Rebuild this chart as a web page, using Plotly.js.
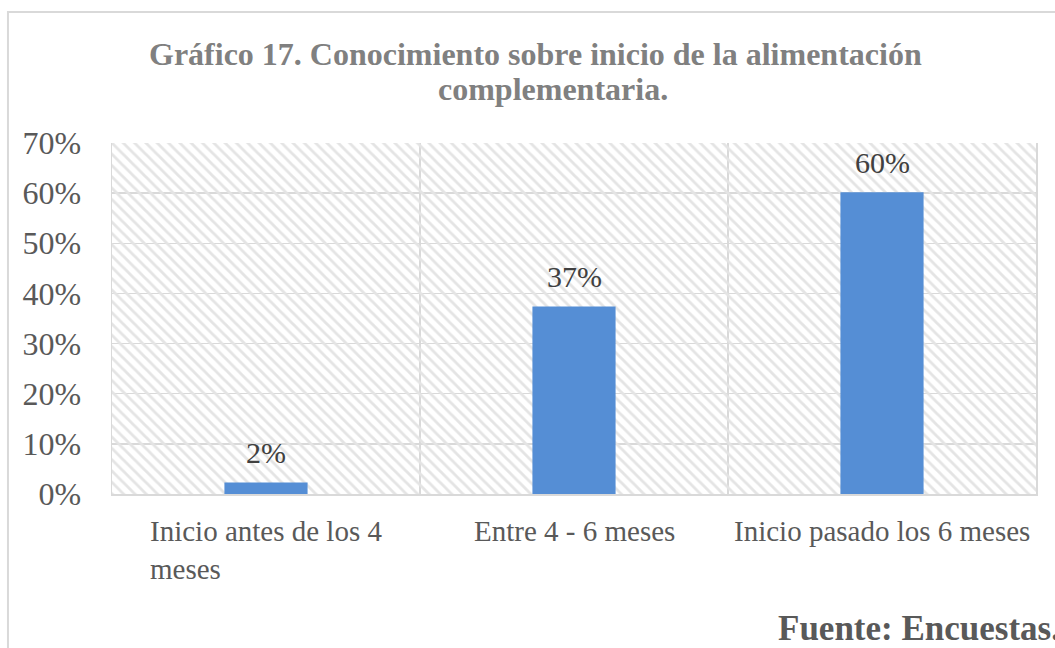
<!DOCTYPE html>
<html>
<head>
<meta charset="utf-8">
<script src="https://cdn.plot.ly/plotly-3.0.1.min.js"></script>
<style>html,body{margin:0;padding:0;background:#fff;}#chart{width:1055px;height:648px;}</style>
</head>
<body>
<div id="chart"></div>
<script>
const categories = ['Inicio antes de los 4 meses', 'Entre 4 - 6 meses', 'Inicio pasado los 6 meses'];
const xLabels = ['Inicio antes de los 4<br>meses', 'Entre 4 - 6 meses', 'Inicio pasado los 6 meses'];
const values = [0.023, 0.374, 0.602];
const valueLabels = ['2%', '37%', '60%'];
const yTickVals = [0, 0.1, 0.2, 0.3, 0.4, 0.5, 0.6, 0.7];
const titleLines = ['Gráfico 17. Conocimiento sobre inicio de la alimentación', 'complementaria.'];
const sourceText = 'Fuente: Encuestas.';

const yMax = yTickVals[yTickVals.length - 1];
const serif = 'Liberation Serif, Times New Roman, serif';
const grid = '#d9d9d9';

const hatch = {
  type: 'bar',
  x: [categories[1]],
  y: [yMax],
  width: [categories.length],
  marker: {
    color: 'rgba(0,0,0,0)',
    line: {width: 0},
    pattern: {shape: '\\', fgcolor: '#e4e4e4', bgcolor: 'rgba(0,0,0,0)', size: 8, solidity: 0.35}
  },
  hoverinfo: 'skip',
  textposition: 'none',
  showlegend: false
};

const bars = {
  type: 'bar',
  x: categories,
  y: values,
  width: 0.27,
  marker: {color: '#558ED5', line: {width: 0}},
  textposition: 'none',
  showlegend: false
};

const annotations = [];
categories.forEach((c, i) => {
  annotations.push({
    x: c, y: 0, xref: 'x', yref: 'y',
    xanchor: 'center', yanchor: 'top', align: 'left',
    yshift: -19,
    text: xLabels[i], showarrow: false,
    font: {family: serif, size: 29, color: '#595959'}
  });
  annotations.push({
    x: c, y: values[i], xref: 'x', yref: 'y',
    xanchor: 'center', yanchor: 'bottom',
    yshift: 11,
    text: valueLabels[i], showarrow: false,
    font: {family: serif, size: 30, color: '#404040'}
  });
});
// title lines
annotations.push({
  x: (535.5 - 112) / 924, y: 1.2544, xref: 'paper', yref: 'paper',
  xanchor: 'center', yanchor: 'middle',
  text: '<b>' + titleLines[0] + '</b>', showarrow: false,
  font: {family: serif, size: 32, color: '#808080'}
});
annotations.push({
  x: (552.5 - 112) / 924, y: 1.1545, xref: 'paper', yref: 'paper',
  xanchor: 'center', yanchor: 'middle',
  text: '<b>' + titleLines[1] + '</b>', showarrow: false,
  font: {family: serif, size: 32, color: '#808080'}
});
annotations.push({
  x: 0.7186, y: -0.3818, xref: 'paper', yref: 'paper',
  xanchor: 'left', yanchor: 'middle',
  text: '<b>' + sourceText + '</b>', showarrow: false,
  font: {family: serif, size: 35, color: '#595959'}
});

const layout = {
  width: 1055, height: 648,
  margin: {l: 112, r: 19, t: 143, b: 154},
  paper_bgcolor: '#fff', plot_bgcolor: '#fff',
  barmode: 'overlay',
  xaxis: {
    type: 'category',
    categoryorder: 'array', categoryarray: categories,
    range: [-0.5, 2.5],
    showticklabels: false,
    tickson: 'boundaries',
    ticks: '',
    showgrid: true, gridcolor: grid, gridwidth: 1.5,
    showline: true, linecolor: grid, linewidth: 1.5,
    zeroline: false, fixedrange: true
  },
  yaxis: {
    range: [0, yMax],
    tickvals: yTickVals,
    tickformat: '.0%',
    tickfont: {family: serif, size: 32, color: '#595959'},
    ticklabelstandoff: 23,
    showgrid: true, gridcolor: grid, gridwidth: 1.5,
    showline: true, mirror: true, linecolor: grid, linewidth: 1.5,
    zeroline: false, fixedrange: true
  },
  shapes: [{
    type: 'rect', xref: 'paper', yref: 'paper',
    x0: -0.1126, x1: 1.06, y0: -0.5, y1: 1.373,
    line: {color: '#d9d9d9', width: 2}, fillcolor: 'rgba(0,0,0,0)', layer: 'below'
  }],
  annotations: annotations
};

Plotly.newPlot('chart', [hatch, bars], layout, {displayModeBar: false, staticPlot: true});
</script>
</body>
</html>
